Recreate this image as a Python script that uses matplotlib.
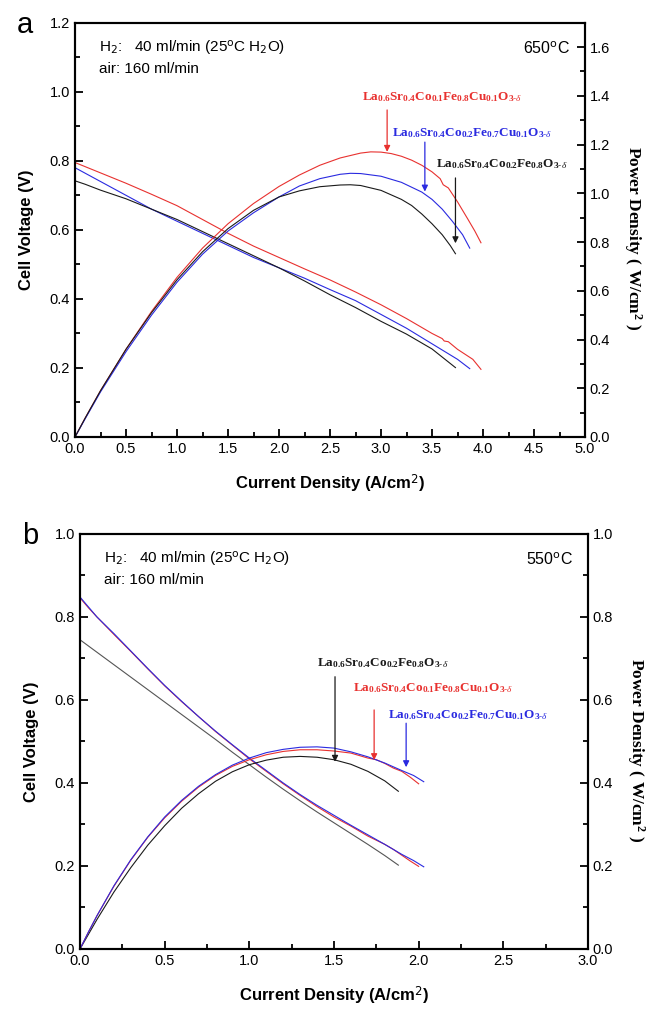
import matplotlib
matplotlib.use('Agg')
from matplotlib import pyplot
from matplotlib.ticker import MultipleLocator

# ---- panel a : 650 C ----
a_red_iv = [0, 0.1, 0.25, 0.5, 0.75, 1.0, 1.25, 1.5, 1.75, 2.0, 2.25, 2.5, 2.75, 3.0, 3.25, 3.5, 3.6, 3.62, 3.66, 3.75, 3.9, 3.98]
a_red_v = [0.795, 0.783, 0.765, 0.735, 0.703, 0.67, 0.63, 0.59, 0.553, 0.52, 0.487, 0.455, 0.42, 0.383, 0.343, 0.30, 0.285, 0.278, 0.276, 0.254, 0.225, 0.196]
a_red_ip = [0, 0.1, 0.25, 0.5, 0.75, 1.0, 1.25, 1.5, 1.75, 2.0, 2.2, 2.4, 2.6, 2.8, 2.9, 3.0, 3.1, 3.2, 3.3, 3.4, 3.5, 3.58, 3.61, 3.66, 3.75, 3.85, 3.92, 3.98]
a_red_p = [0, 0.078, 0.19, 0.36, 0.515, 0.655, 0.775, 0.875, 0.958, 1.028, 1.075, 1.115, 1.145, 1.165, 1.17, 1.169, 1.163, 1.152, 1.136, 1.115, 1.088, 1.06, 1.035, 1.022, 0.965, 0.895, 0.845, 0.797]

a_blue_iv = [0, 0.1, 0.25, 0.5, 0.75, 1.0, 1.25, 1.5, 1.75, 2.0, 2.25, 2.5, 2.75, 3.0, 3.25, 3.5, 3.75, 3.87]
a_blue_v = [0.78, 0.764, 0.74, 0.70, 0.66, 0.625, 0.59, 0.555, 0.52, 0.49, 0.46, 0.427, 0.395, 0.355, 0.315, 0.27, 0.225, 0.198]
a_blue_ip = [0, 0.1, 0.25, 0.5, 0.75, 1.0, 1.25, 1.5, 1.75, 2.0, 2.2, 2.4, 2.6, 2.7, 2.8, 3.0, 3.2, 3.4, 3.5, 3.6, 3.7, 3.8, 3.87]
a_blue_p = [0, 0.075, 0.185, 0.35, 0.50, 0.635, 0.75, 0.845, 0.92, 0.985, 1.03, 1.06, 1.078, 1.082, 1.081, 1.07, 1.045, 1.005, 0.975, 0.935, 0.885, 0.83, 0.775]

a_black_iv = [0, 0.1, 0.25, 0.5, 0.75, 1.0, 1.25, 1.5, 1.75, 2.0, 2.25, 2.5, 2.75, 3.0, 3.25, 3.5, 3.73]
a_black_v = [0.742, 0.732, 0.715, 0.69, 0.66, 0.63, 0.595, 0.56, 0.525, 0.49, 0.452, 0.412, 0.375, 0.335, 0.298, 0.255, 0.201]
a_black_ip = [0, 0.1, 0.25, 0.5, 0.75, 1.0, 1.25, 1.5, 1.75, 2.0, 2.2, 2.4, 2.6, 2.7, 2.8, 3.0, 3.2, 3.3, 3.4, 3.5, 3.6, 3.68, 3.73]
a_black_p = [0, 0.078, 0.19, 0.36, 0.51, 0.645, 0.76, 0.855, 0.93, 0.985, 1.01, 1.027, 1.034, 1.035, 1.032, 1.012, 0.975, 0.95, 0.915, 0.875, 0.83, 0.785, 0.752]

# ---- panel b : 550 C ----
b_red_i = [0, 0.05, 0.1, 0.2, 0.3, 0.4, 0.5, 0.6, 0.7, 0.8, 0.9, 1.0, 1.1, 1.2, 1.3, 1.4, 1.5, 1.6, 1.7, 1.75, 1.8, 1.85, 1.9, 1.95, 2.0]
b_red_v = [0.846, 0.822, 0.80, 0.758, 0.717, 0.675, 0.634, 0.596, 0.56, 0.524, 0.491, 0.458, 0.428, 0.398, 0.370, 0.343, 0.318, 0.296, 0.272, 0.262, 0.252, 0.240, 0.226, 0.212, 0.199]
b_red_p = [0, 0.041, 0.080, 0.151, 0.214, 0.269, 0.316, 0.356, 0.390, 0.418, 0.440, 0.456, 0.468, 0.476, 0.480, 0.480, 0.477, 0.472, 0.460, 0.456, 0.447, 0.436, 0.428, 0.414, 0.398]

b_blue_i = [0, 0.05, 0.1, 0.2, 0.3, 0.4, 0.5, 0.6, 0.7, 0.8, 0.9, 1.0, 1.1, 1.2, 1.3, 1.4, 1.5, 1.6, 1.7, 1.8, 1.9, 1.97, 2.03]
b_blue_v = [0.848, 0.824, 0.80, 0.76, 0.718, 0.676, 0.635, 0.597, 0.56, 0.525, 0.492, 0.46, 0.43, 0.40, 0.372, 0.346, 0.322, 0.298, 0.275, 0.252, 0.228, 0.213, 0.198]
b_blue_p = [0, 0.041, 0.080, 0.152, 0.215, 0.270, 0.318, 0.358, 0.392, 0.42, 0.443, 0.46, 0.473, 0.481, 0.486, 0.487, 0.484, 0.475, 0.463, 0.448, 0.43, 0.418, 0.403]

b_black_i = [0, 0.1, 0.2, 0.3, 0.4, 0.5, 0.6, 0.7, 0.8, 0.9, 1.0, 1.1, 1.2, 1.3, 1.4, 1.5, 1.6, 1.7, 1.8, 1.88]
b_black_v = [0.745, 0.715, 0.685, 0.655, 0.625, 0.595, 0.565, 0.535, 0.505, 0.474, 0.444, 0.414, 0.385, 0.357, 0.330, 0.304, 0.278, 0.252, 0.225, 0.202]
b_black_p = [0, 0.071, 0.137, 0.196, 0.250, 0.297, 0.339, 0.374, 0.404, 0.427, 0.444, 0.455, 0.462, 0.464, 0.462, 0.456, 0.445, 0.428, 0.405, 0.38]

elements = ['La', 'Sr', 'Co', 'Fe', 'Cu', 'O']
red_subs = ['0.6', '0.4', '0.1', '0.8', '0.1']
blue_subs = ['0.6', '0.4', '0.2', '0.7', '0.1']
black_elements = ['La', 'Sr', 'Co', 'Fe', 'O']
black_subs = ['0.6', '0.4', '0.2', '0.8']

RED = '#e8312f'
BLUE = '#2a2ae0'
BLACK = '#1a1a1a'


def formula(elems, subs):
    s = ''
    for el, sub in zip(elems[:-1], subs):
        s += r'\mathbf{%s}_{\mathbf{%s}}' % (el, sub)
    s += r'\mathbf{%s}_{\mathbf{3}\text{-}\delta}' % elems[-1]
    return '$' + s + '$'


def setupPanel(axes, xmax, ymax, pmax, letter, temp):
    twin = axes.twinx()
    axes.set_xlim(0, xmax)
    axes.set_ylim(0, ymax)
    twin.set_ylim(0, pmax)
    axes.xaxis.set_major_locator(MultipleLocator(0.5))
    axes.xaxis.set_minor_locator(MultipleLocator(0.25))
    axes.yaxis.set_major_locator(MultipleLocator(0.2))
    axes.yaxis.set_minor_locator(MultipleLocator(0.1))
    twin.yaxis.set_major_locator(MultipleLocator(0.2))
    twin.yaxis.set_minor_locator(MultipleLocator(0.1))
    axes.tick_params(which='both', direction='in', top=False, right=False, labelsize=10.5)
    axes.tick_params(which='major', length=6, width=1.3)
    axes.tick_params(which='minor', length=3.5, width=1.3)
    twin.tick_params(which='both', direction='in', labelsize=10.5)
    twin.tick_params(which='major', length=6, width=1.3)
    twin.tick_params(which='minor', length=3.5, width=1.3)
    for ax in (axes, twin):
        for sp in ax.spines.values():
            sp.set_linewidth(1.5)
    axes.xaxis.set_major_formatter(lambda v, p: '%.1f' % v)
    axes.yaxis.set_major_formatter(lambda v, p: '%.1f' % v)
    twin.yaxis.set_major_formatter(lambda v, p: '%.1f' % v)

    axes.text(-0.095, 0.5, 'Cell Voltage (V)', transform=axes.transAxes, rotation=90,
              ha='center', va='center', fontsize=12, fontweight='bold')
    axes.text(0.5, -0.112, r'Current Density (A/cm$^\mathsf{2}$)', transform=axes.transAxes,
              ha='center', va='center', fontsize=12, fontweight='bold')
    twin.text(1.094, 0.48, r'Power Density ( W/cm$^\mathbf{2}$ )', transform=axes.transAxes,
              rotation=270, ha='center', va='center', fontsize=12.5, fontweight='bold',
              family='Liberation Serif')
    axes.text(0.047, 0.94, r'H$_\mathsf{2}$:   40 ml/min (25$^\mathsf{o}$C H$_\mathsf{2}$O)',
              transform=axes.transAxes, ha='left', va='center', fontsize=11)
    axes.text(0.047, 0.889, 'air: 160 ml/min', transform=axes.transAxes,
              ha='left', va='center', fontsize=11)
    axes.text(0.97, 0.94, temp, transform=axes.transAxes, ha='right', va='center', fontsize=11.5)
    axes.text(-0.083, 0.976, letter, transform=axes.transAxes, ha='right', va='baseline', fontsize=21)
    return twin


def label(twin, text, color, tx, ty, ax_x, tail, tip):
    twin.text(tx, ty, text, color=color, ha='left', va='center', fontsize=9.5)
    twin.annotate('', xy=(ax_x, tip), xytext=(ax_x, tail),
                  arrowprops=dict(arrowstyle='-|>', color=color, lw=0.9, mutation_scale=9,
                                  shrinkA=0, shrinkB=0))


def main():
    pyplot.rcParams['font.family'] = ['Liberation Sans Narrow', 'Liberation Sans', 'DejaVu Sans']
    pyplot.rcParams['mathtext.fontset'] = 'custom'
    pyplot.rcParams['mathtext.rm'] = 'Liberation Serif'
    pyplot.rcParams['mathtext.bf'] = 'Liberation Serif:bold'
    pyplot.rcParams['mathtext.it'] = 'Liberation Serif:italic'
    pyplot.rcParams['mathtext.sf'] = 'Liberation Sans Narrow'

    figure = pyplot.figure(figsize=(6.5, 10.09), dpi=100)
    axA = figure.add_axes([0.1154, 0.5669, 0.7846, 0.4106])
    axB = figure.add_axes([0.1231, 0.0595, 0.7815, 0.4113])

    twA = setupPanel(axA, 5.0, 1.2, 1.7, 'a', r'650$^\mathsf{o}$C')
    lw = 0.8
    axA.plot(a_red_iv, a_red_v, color=RED, lw=lw)
    axA.plot(a_blue_iv, a_blue_v, color=BLUE, lw=lw)
    axA.plot(a_black_iv, a_black_v, color=BLACK, lw=lw)
    twA.plot(a_red_ip, a_red_p, color=RED, lw=lw)
    twA.plot(a_blue_ip, a_blue_p, color=BLUE, lw=lw)
    twA.plot(a_black_ip, a_black_p, color=BLACK, lw=lw)
    label(twA, formula(elements, red_subs), RED, 2.818, 1.395, 3.06, 1.342, 1.17)
    label(twA, formula(elements, blue_subs), BLUE, 3.11, 1.247, 3.43, 1.21, 1.007)
    label(twA, formula(black_elements, black_subs), BLACK, 3.54, 1.12, 3.73, 1.063, 0.795)

    twB = setupPanel(axB, 3.0, 1.0, 1.0, 'b', r'550$^\mathsf{o}$C')
    axB.plot(b_black_i, b_black_v, color='#555555', lw=lw)
    axB.plot(b_red_i, b_red_v, color=RED, lw=lw)
    axB.plot(b_blue_i, b_blue_v, color=BLUE, lw=lw)
    twB.plot(b_black_i, b_black_p, color=BLACK, lw=lw)
    twB.plot(b_red_i, b_red_p, color=RED, lw=lw)
    twB.plot(b_blue_i, b_blue_p, color=BLUE, lw=lw)
    label(twB, formula(black_elements, black_subs), BLACK, 1.398, 0.689, 1.506, 0.656, 0.451)
    label(twB, formula(elements, red_subs), RED, 1.614, 0.629, 1.737, 0.576, 0.455)
    label(twB, formula(elements, blue_subs), BLUE, 1.819, 0.564, 1.926, 0.544, 0.438)

    figure.savefig('out.png', dpi=100)


main()
